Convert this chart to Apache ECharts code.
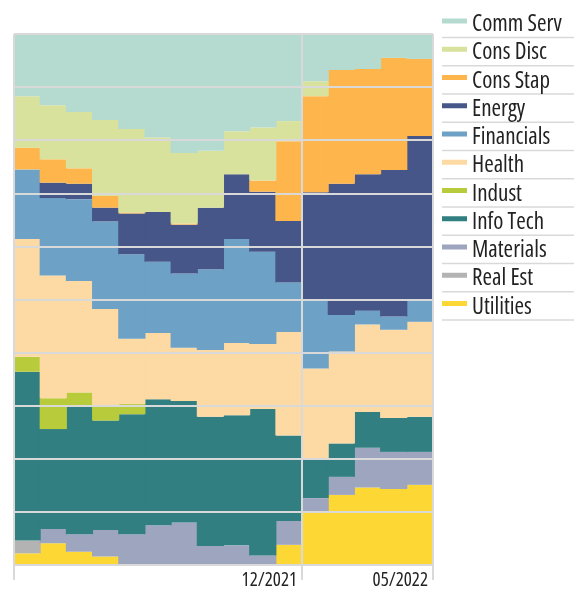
<!DOCTYPE html>
<html>
<head>
<meta charset="utf-8">
<script src="https://cdn.jsdelivr.net/npm/echarts@6/dist/echarts.min.js"></script>
<style>
  html, body { margin: 0; padding: 0; background: #fff; }
  #chart { width: 574px; height: 591px; }
</style>
</head>
<body>
<div id="chart"></div>
<script>
// month ends, 02/2021 .. 05/2022
var months = ['02/2021', '03/2021', '04/2021', '05/2021', '06/2021', '07/2021', '08/2021', '09/2021',
              '10/2021', '11/2021', '12/2021', '01/2022', '02/2022', '03/2022', '04/2022', '05/2022'];
var tickLabels = ['12/2021', '05/2022'];

// sector weights (%)
var commServ   = [11.7, 13.4, 14.7, 16.2, 17.9, 19.5, 22.4, 22.0, 18.3, 17.6, 16.4, 8.9, 6.8, 6.6, 4.5, 4.7];
var consDisc   = [9.7, 10.2, 10.6, 14.3, 15.7, 14.0, 13.3, 10.7, 8.1, 10.0, 3.8, 2.8, 0, 0, 0, 0];
var consStap   = [4.1, 4.4, 2.9, 2.2, 0.2, 0, 0.2, 0, 0, 2.1, 15.0, 18.1, 21.4, 19.8, 21.1, 14.5];
var energy     = [0, 2.9, 2.9, 2.6, 7.7, 9.4, 9.2, 11.6, 12.2, 11.3, 11.6, 20.1, 24.7, 25.7, 27.6, 30.7];
var financials = [13.1, 14.6, 15.4, 16.5, 15.9, 13.4, 14.0, 15.2, 19.6, 17.4, 9.3, 13.1, 6.9, 2.6, 2.5, 4.3];
var health     = [22.2, 23.1, 21.0, 18.2, 12.3, 12.5, 10.0, 12.6, 13.6, 12.2, 19.5, 17.2, 17.3, 16.5, 16.6, 17.9];
var indust     = [2.8, 5.8, 2.6, 2.8, 1.9, 0, 0, 0, 0, 0, 0, 0, 0, 0, 0, 0];
var infoTech   = [31.8, 18.8, 24.1, 20.6, 22.6, 23.7, 22.9, 24.3, 24.5, 27.6, 16.1, 7.2, 6.3, 6.7, 6.4, 6.6];
var materials  = [0, 2.7, 3.3, 5.0, 5.8, 7.5, 8.0, 3.6, 3.7, 1.8, 4.5, 2.8, 3.4, 7.5, 7.0, 6.2];
var realEst    = [2.4, 0, 0, 0, 0, 0, 0, 0, 0, 0, 0, 0, 0, 0, 0, 0];
var utilities  = [2.2, 4.1, 2.5, 1.6, 0, 0, 0, 0, 0, 0, 3.8, 9.8, 13.2, 14.6, 14.3, 15.1];

// bottom of the stack first
var sectors = [
    {name: 'Utilities',  data: utilities,  color: '#fdd835'},
    {name: 'Real Est',   data: realEst,    color: '#b3b3b3'},
    {name: 'Materials',  data: materials,  color: '#9ea5bf'},
    {name: 'Info Tech',  data: infoTech,   color: '#317f80'},
    {name: 'Indust',     data: indust,     color: '#b8cb3a'},
    {name: 'Health',     data: health,     color: '#fdd9a4'},
    {name: 'Financials', data: financials, color: '#6ea1c6'},
    {name: 'Energy',     data: energy,     color: '#465688'},
    {name: 'Cons Stap',  data: consStap,   color: '#fdb54c'},
    {name: 'Cons Disc',  data: consDisc,   color: '#d9e29c'},
    {name: 'Comm Serv',  data: commServ,   color: '#b5dbd0'}
];

var font = '"Open Sans", Roboto, sans-serif';
var gridColor = '#d9d9d9';
// swatch bar in the top part of a 25x12 box, so it sits above the text middle
var swatchIcon = 'path://M0,0h25v5h-25zM0,11.99h0.01v0.01h-0.01z';

// bars a bit wider than the band so neighbours overlap (no white seams)
var series = sectors.map(function (s) {
    return {
        name: s.name,
        type: 'bar',
        stack: 'total',
        barWidth: '104%',
        xAxisIndex: 0,
        data: s.data.map(function (v) { return v > 0 ? v : '-'; }),
        itemStyle: {color: s.color},
        emphasis: {disabled: true}
    };
});

// value positions of the labelled ticks (end of the month band)
var tickPos = tickLabels.map(function (t) { return months.indexOf(t) + 1; });

// separators under the legend rows
var rows = [];
for (var i = 0; i < sectors.length; i++) {
    var y = 37.5 + i * 28.25;
    rows.push({
        type: 'line',
        shape: {x1: 442, y1: y, x2: 574, y2: y},
        style: {stroke: gridColor, lineWidth: 1.5}
    });
}

var chart = echarts.init(document.getElementById('chart'));
chart.setOption({
    animation: false,
    grid: {left: 14, right: 141, top: 34, bottom: 26, containLabel: false},
    legend: {
        orient: 'vertical',
        left: 442,
        top: 12.5,
        padding: 0,
        icon: swatchIcon,
        itemWidth: 25,
        itemHeight: 12,
        itemGap: 4.25,
        selectedMode: false,
        data: sectors.map(function (s) { return s.name; }).reverse(),
        textStyle: {fontFamily: font, fontWeight: 'condensed', fontSize: 23, lineHeight: 24, color: '#222'}
    },
    xAxis: [{
        type: 'category',
        data: months,
        position: 'top',
        show: false
    }, {
        type: 'value',
        min: 0,
        max: months.length,
        position: 'bottom',
        z: 5,
        axisLine: {show: false},
        axisTick: {
            show: true,
            length: 15,
            customValues: [0].concat(tickPos),
            lineStyle: {color: gridColor, width: 2}
        },
        splitLine: {show: true, lineStyle: {color: gridColor, width: 2}},
        axisLabel: {
            customValues: tickPos,
            formatter: function (v) { return tickLabels[tickPos.indexOf(v)] || ''; },
            align: 'right',
            padding: [0, 5, 0, 0],
            margin: 6,
            fontFamily: font,
            fontWeight: 'condensed',
            fontSize: 19,
            color: '#222'
        }
    }],
    yAxis: {
        type: 'value',
        min: 0,
        max: 100,
        interval: 10,
        z: 5,
        axisLine: {show: false},
        axisTick: {show: false},
        axisLabel: {show: false},
        splitLine: {show: true, lineStyle: {color: gridColor, width: 2}}
    },
    graphic: rows,
    series: series
});
</script>
</body>
</html>
